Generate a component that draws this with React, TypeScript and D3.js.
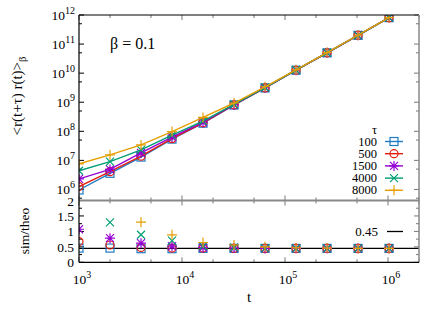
import React from "react";
import * as d3 from "d3";

const times = [1000, 2000, 4000, 8000, 16000, 32000, 64000, 128000, 256000, 512000, 1024000];
const taus = ["100", "500", "1500", "4000", "8000"];
const colors = ["#1f7cc4", "#e51e10", "#9400d3", "#009e73", "#e69f00"];
const shapes = ["square", "circle", "star", "cross", "plus"];

const corr100 = [9.6e5, 3.6e6, 1.3e7, 5.4e7, 1.9e8, 8.0e8, 3.1e9, 1.26e10, 5.0e10, 2.0e11, 8.1e11];
const corr500 = [1.26e6, 4.1e6, 1.4e7, 5.6e7, 1.95e8, 8.1e8, 3.1e9, 1.26e10, 5.0e10, 2.0e11, 8.1e11];
const corr1500 = [2.3e6, 4.9e6, 1.8e7, 6.3e7, 2.05e8, 8.2e8, 3.15e9, 1.27e10, 5.0e10, 2.0e11, 8.1e11];
const corr4000 = [4.4e6, 9.1e6, 2.3e7, 7.4e7, 2.25e8, 8.5e8, 3.2e9, 1.28e10, 5.05e10, 2.0e11, 8.1e11];
const corr8000 = [7.6e6, 1.55e7, 3.4e7, 9.8e7, 3.0e8, 9.4e8, 3.4e9, 1.3e10, 5.1e10, 2.02e11, 8.1e11];

const ratio100 = [0.46, 0.46, 0.44, 0.44, 0.45, 0.45, 0.45, 0.45, 0.45, 0.45, 0.45];
const ratio500 = [0.67, 0.56, 0.48, 0.46, 0.46, 0.45, 0.45, 0.45, 0.45, 0.45, 0.45];
const ratio1500 = [1.07, 0.78, 0.62, 0.52, 0.48, 0.46, 0.45, 0.45, 0.45, 0.45, 0.45];
const ratio4000 = [null, 1.29, 0.89, 0.7, 0.52, 0.48, 0.46, 0.45, 0.45, 0.45, 0.45];
const ratio8000 = [null, null, 1.3, 0.89, 0.64, 0.56, 0.5, 0.47, 0.46, 0.45, 0.45];

const corrSeries = [corr100, corr500, corr1500, corr4000, corr8000];
const ratioSeries = [ratio100, ratio500, ratio1500, ratio4000, ratio8000];
const refLevel = 0.45;

const xMajor = [1e3, 1e4, 1e5, 1e6];
const xMinor = [2e3, 5e3, 2e4, 5e4, 2e5, 5e5, 2e6];
const yTopMajor = [1e6, 1e7, 1e8, 1e9, 1e10, 1e11, 1e12];
const yTopMinor = [5e5, 5e6, 5e7, 5e8, 5e9, 5e10, 5e11];
const yBotMajor = [0, 0.5, 1, 1.5, 2];
const yBotMinor = [0.25, 0.75, 1.25, 1.75];

const L = 79, R = 419, T = 15, M = 200.5, B = 262.3;
const font = "'Liberation Serif', 'DejaVu Serif', serif";

const x = d3.scaleLog().domain([1e3, 2e6]).range([L, R]);
const yTop = d3.scaleLog().domain([10 ** 5.62, 1e12]).range([M, T]);
const yBot = d3.scaleLinear().domain([0, 2]).range([B, M]);

function Marker({ shape, cx, cy, color }: { shape: string; cx: number; cy: number; color: string }) {
  const s = 4;
  const p = { stroke: color, strokeWidth: 1.2, fill: "none" };
  if (shape === "square") return <rect x={cx - s} y={cy - s} width={2 * s} height={2 * s} {...p} />;
  if (shape === "circle") return <circle cx={cx} cy={cy} r={s} {...p} />;
  if (shape === "plus")
    return <path d={`M${cx - s - 1},${cy}H${cx + s + 1}M${cx},${cy - s - 1}V${cy + s + 1}`} {...p} />;
  if (shape === "cross")
    return <path d={`M${cx - s},${cy - s}L${cx + s},${cy + s}M${cx - s},${cy + s}L${cx + s},${cy - s}`} {...p} />;
  return (
    <path
      d={`M${cx - s - 1},${cy}H${cx + s + 1}M${cx},${cy - s - 1}V${cy + s + 1}M${cx - s},${cy - s}L${cx + s},${cy + s}M${cx - s},${cy + s}L${cx + s},${cy - s}`}
      {...p}
    />
  );
}

function Pow({ x: px, y: py, exp, anchor }: { x: number; y: number; exp: number; anchor: string }) {
  return (
    <text x={px} y={py} textAnchor={anchor} fontFamily={font} fontSize={13.5} fill="#000">
      10<tspan dy={-6} fontSize={10}>{exp}</tspan>
    </text>
  );
}

export default function App() {
  const line = d3
    .line<number>()
    .x((_, i) => x(times[i]))
    .y((d) => yTop(d));
  const tickGray = "#777";
  return (
    <svg width={442} height={309} style={{ position: "absolute", left: 0, top: 0 }}>
      <rect width={442} height={309} fill="#fff" />
      <defs>
        <clipPath id="cTop">
          <rect x={L} y={T} width={R - L} height={M - T} />
        </clipPath>
        <clipPath id="cBot">
          <rect x={L} y={M} width={R - L} height={B - M} />
        </clipPath>
      </defs>

      {yTopMajor.map((v) => (
        <g key={"ytM" + v}>
          <line x1={L} x2={L + 5} y1={yTop(v)} y2={yTop(v)} stroke="#000" />
          <line x1={R} x2={R - 5} y1={yTop(v)} y2={yTop(v)} stroke={tickGray} />
        </g>
      ))}
      {yTopMinor.filter((v) => yTop(v) < M - 1).map((v) => (
        <g key={"ytm" + v}>
          <line x1={L} x2={L + 3} y1={yTop(v)} y2={yTop(v)} stroke="#000" />
          <line x1={R} x2={R - 3} y1={yTop(v)} y2={yTop(v)} stroke={tickGray} />
        </g>
      ))}
      {xMajor.map((v) => (
        <g key={"xM" + v}>
          <line x1={x(v)} x2={x(v)} y1={M} y2={M - 5} stroke={tickGray} />
          <line x1={x(v)} x2={x(v)} y1={T} y2={T + 5} stroke={tickGray} />
          <line x1={x(v)} x2={x(v)} y1={B} y2={B - 5} stroke={tickGray} />
          <line x1={x(v)} x2={x(v)} y1={M} y2={M + 5} stroke={tickGray} />
        </g>
      ))}
      {xMinor.map((v) => (
        <g key={"xm" + v}>
          <line x1={x(v)} x2={x(v)} y1={M} y2={M - 3} stroke={tickGray} />
          <line x1={x(v)} x2={x(v)} y1={T} y2={T + 3} stroke={tickGray} />
          <line x1={x(v)} x2={x(v)} y1={B} y2={B - 3} stroke={tickGray} />
          <line x1={x(v)} x2={x(v)} y1={M} y2={M + 3} stroke={tickGray} />
        </g>
      ))}
      {yBotMajor.map((v) => (
        <g key={"ybM" + v}>
          <line x1={L} x2={L + 5} y1={yBot(v)} y2={yBot(v)} stroke="#000" />
          <line x1={R} x2={R - 5} y1={yBot(v)} y2={yBot(v)} stroke={tickGray} />
        </g>
      ))}
      {yBotMinor.map((v) => (
        <g key={"ybm" + v}>
          <line x1={L} x2={L + 3} y1={yBot(v)} y2={yBot(v)} stroke="#000" />
          <line x1={R} x2={R - 3} y1={yBot(v)} y2={yBot(v)} stroke={tickGray} />
        </g>
      ))}

      <g clipPath="url(#cTop)">
        {corrSeries.map((s, k) => (
          <g key={"ts" + k}>
            <path d={line(s) || ""} fill="none" stroke={colors[k]} strokeWidth={1.4} />
            {s.map((v, i) => (
              <Marker key={i} shape={shapes[k]} cx={x(times[i])} cy={yTop(v)} color={colors[k]} />
            ))}
          </g>
        ))}
      </g>

      <g clipPath="url(#cBot)">
        <line x1={L} x2={R} y1={yBot(refLevel)} y2={yBot(refLevel)} stroke="#000" strokeWidth={1.3} />
        {ratioSeries.map((s, k) => (
          <g key={"bs" + k}>
            {s.map((v, i) =>
              v == null ? null : (
                <Marker key={i} shape={shapes[k]} cx={x(times[i])} cy={yBot(v)} color={colors[k]} />
              )
            )}
          </g>
        ))}
      </g>

      <line x1={L} x2={R} y1={T} y2={T} stroke="#000" strokeWidth={1.2} />
      <line x1={R} x2={R} y1={T} y2={B} stroke="#888" strokeWidth={1.5} />
      <line x1={L} x2={R} y1={M} y2={M} stroke="#888" strokeWidth={2} />
      <line x1={L} x2={R} y1={B} y2={B} stroke="#000" strokeWidth={1.2} />
      <line x1={L} x2={L} y1={T} y2={B} stroke="#000" strokeWidth={1.2} />

      {yTopMajor.map((v) => (
        <Pow key={"ytl" + v} x={75} y={yTop(v) + 5} exp={Math.round(Math.log10(v))} anchor="end" />
      ))}
      {yBotMajor.map((v) => (
        <text key={"ybl" + v} x={74} y={yBot(v) + 5} textAnchor="end" fontFamily={font} fontSize={13.5}>
          {v}
        </text>
      ))}
      {xMajor.map((v) => (
        <Pow key={"xl" + v} x={x(v) + 3} y={284} exp={Math.round(Math.log10(v))} anchor="middle" />
      ))}

      <text x={249} y={302} textAnchor="middle" fontFamily={font} fontSize={15}>
        t
      </text>
      <text transform={`translate(22,96) rotate(-90)`} textAnchor="middle" fontFamily={font} fontSize={15}>
        &lt;r(t+τ) r(t)&gt;<tspan dy={4} fontSize={10.5}>β</tspan>
      </text>
      <text transform={`translate(29,231) rotate(-90)`} textAnchor="middle" fontFamily={font} fontSize={13.5}>
        sim/theo
      </text>
      <text x={110} y={49} fontFamily={font} fontSize={16}>
        β = 0.1
      </text>

      <text x={377} y={134} textAnchor="end" fontFamily={font} fontSize={12.5}>
        τ
      </text>
      {taus.map((t, k) => {
        const ly = 141.5 + k * 12.2;
        return (
          <g key={"lg" + t}>
            <text x={377} y={ly + 4} textAnchor="end" fontFamily={font} fontSize={12.5}>
              {t}
            </text>
            <line x1={385} x2={403} y1={ly} y2={ly} stroke={colors[k]} strokeWidth={1.4} />
            <Marker shape={shapes[k]} cx={394} cy={ly} color={colors[k]} />
          </g>
        );
      })}
      <text x={378} y={236} textAnchor="end" fontFamily={font} fontSize={13}>
        {refLevel}
      </text>
      <line x1={387} x2={403} y1={231.5} y2={231.5} stroke="#000" strokeWidth={1.3} />
    </svg>
  );
}
